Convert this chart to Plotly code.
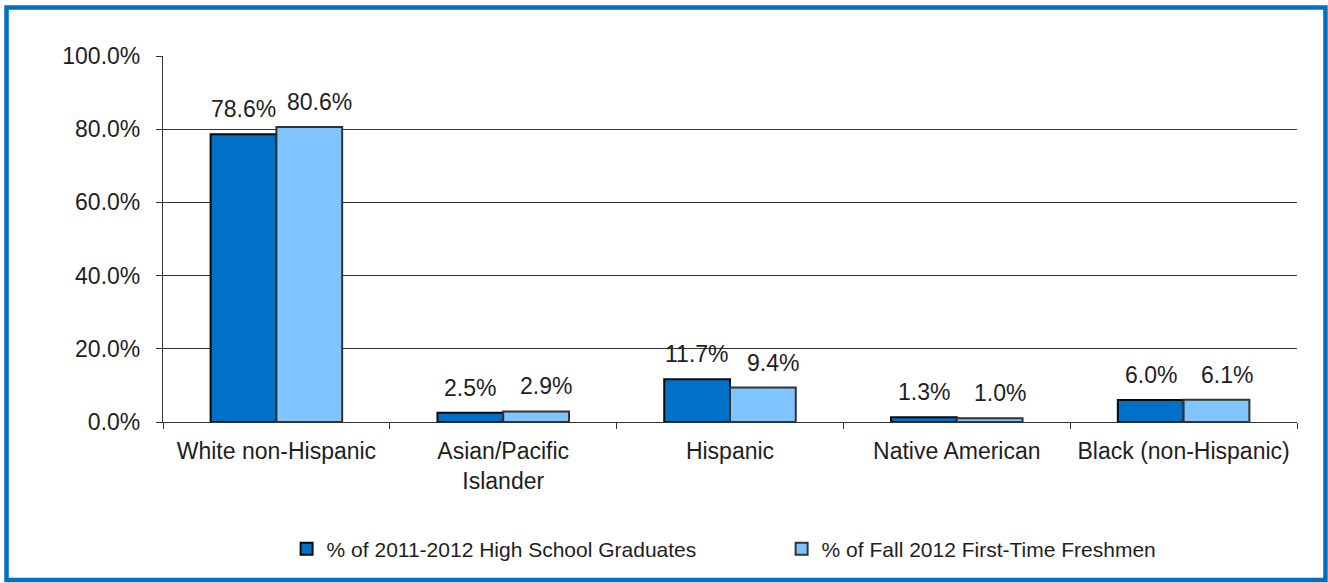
import plotly.graph_objects as go

categories = ["White non-Hispanic", "Asian/Pacific<br>Islander", "Hispanic", "Native American", "Black (non-Hispanic)"]
hs_grads = [78.6, 2.5, 11.7, 1.3, 6.0]
freshmen = [80.6, 2.9, 9.4, 1.0, 6.1]
series_names = ["% of 2011-2012 High School Graduates", "% of Fall 2012 First-Time Freshmen"]
y_ticks = [0, 20, 40, 60, 80, 100]
y_tick_labels = ["0.0%", "20.0%", "40.0%", "60.0%", "80.0%", "100.0%"]

dark = "#0070C8"
light = "#80C4FF"
font = "Liberation Sans, Arial, sans-serif"
txt = "#1e1e1e"

fig = go.Figure()
fig.add_trace(go.Bar(x=categories, y=hs_grads, name=series_names[0],
                     marker=dict(color=dark, line=dict(color="#0a0a0a", width=2))))
fig.add_trace(go.Bar(x=categories, y=freshmen, name=series_names[1],
                     marker=dict(color=light, line=dict(color="#333333", width=2))))

for vals, shift in ((hs_grads, -33), (freshmen, 43)):
    for c, v in zip(categories, vals):
        fig.add_annotation(x=c, y=v, text=f"{v:.1f}%", showarrow=False,
                           xshift=shift, yshift=10, yanchor="bottom",
                           font=dict(family=font, size=23, color=txt))

fig.add_shape(type="rect", xref="paper", yref="paper",
              x0=-0.138, x1=1.0251, y0=-0.4317, y1=1.1325,
              line=dict(color="#0070C0", width=4.5), layer="below")

fig.update_layout(
    width=1328, height=583,
    margin=dict(l=163, r=31, t=56, b=161),
    paper_bgcolor="white", plot_bgcolor="white",
    barmode="group", bargap=0.42, bargroupgap=0,
    font=dict(family=font, size=23, color=txt),
    showlegend=True,
    legend=dict(orientation="h", x=0.109, xanchor="left", y=-0.347, yanchor="middle",
                font=dict(family=font, size=21, color=txt),
                itemwidth=30, tracegroupgap=0, entrywidth=450, entrywidthmode="pixels"),
    xaxis=dict(type="category", showline=True, linecolor="#333333", linewidth=1.2,
               ticks="outside", tickson="boundaries", ticklen=6, tickcolor="#333333",
               ticklabelstandoff=8,
               tickfont=dict(family=font, size=23, color=txt), showgrid=False),
    yaxis=dict(range=[0, 100], tickvals=y_ticks, ticktext=y_tick_labels,
               showline=True, linecolor="#333333", linewidth=1.2,
               ticks="outside", ticklen=6, tickcolor="#333333", ticklabelstandoff=11,
               showgrid=True, gridcolor="#333333", gridwidth=1.2, zeroline=False,
               tickfont=dict(family=font, size=23, color=txt)),
)

fig.write_html("out.html", config={"displayModeBar": False},
               post_script="document.body.style.margin='0';document.body.style.overflow='hidden';")
